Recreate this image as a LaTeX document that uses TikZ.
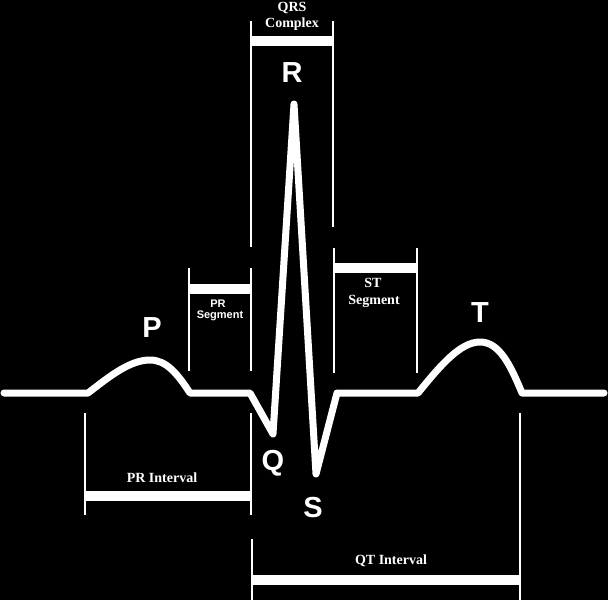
\documentclass[tikz,border=0pt]{standalone}
\usepackage{fontspec}
\setmainfont{Liberation Serif}
\setsansfont{Liberation Sans}
\begin{document}
\begin{tikzpicture}[x=1pt,y=-1pt,
  wave/.style={white,line width=7pt,line join=round,line cap=round},
  tick/.style={white,line width=1.3pt},
  bar/.style={white,line width=10pt},
  wavelabel/.style={white,font=\fontsize{29}{30}\sffamily\bfseries,anchor=base,inner sep=0pt},
  seriflabel/.style={white,font=\fontsize{14}{15}\rmfamily\bfseries,anchor=base,inner sep=0pt},
  sanslabel/.style={white,font=\fontsize{11}{12}\sffamily\bfseries,anchor=base,inner sep=0pt}]
\fill[black] (0,0) rectangle (608,600);
\useasboundingbox (0,0) rectangle (608,600);
% waveform
\draw[wave] (4,393) -- (88,393)
  .. controls (110,376) and (130,360) .. (150,360)
  .. controls (166,360) and (177,373) .. (190,393)
  -- (250,393) -- (273,434) -- (294,104) -- (316,474) -- (337,393) -- (418,393)
  .. controls (440,366) and (460,342) .. (480,342)
  .. controls (499,342) and (510,364) .. (522,393)
  -- (604,393);
% QRS complex
\draw[tick] (251,21) -- (251,247);
\draw[tick] (333,21) -- (333,227);
\draw[bar] (251,41) -- (333,41);
\node[seriflabel] (qrs1) at (292,11.5) {QRS};
\node[seriflabel] (qrs2) at (292,27.5) {Complex};
% PR segment
\draw[tick] (189,268) -- (189,371);
\draw[tick] (251,268) -- (251,371);
\draw[bar] (189,288.5) -- (251,288.5);
\node[sanslabel] (prs1) at (218,307) {PR};
\node[sanslabel] (prs2) at (220,318) {Segment};
% ST segment
\draw[tick] (334,248) -- (334,373);
\draw[tick] (417,248) -- (417,373);
\draw[bar] (334,268) -- (417,268);
\node[seriflabel] (sts1) at (373,287) {ST};
\node[seriflabel] (sts2) at (374,304) {Segment};
% PR interval
\draw[tick] (85,413) -- (85,515);
\draw[tick] (251,413) -- (251,515);
\draw[bar] (85,496) -- (251,496);
\node[seriflabel] (pri) at (162,482) {PR Interval};
% QT interval
\draw[tick] (252,539) -- (252,600);
\draw[tick] (520,413) -- (520,600);
\draw[bar] (252,580) -- (520,580);
\node[seriflabel] (qti) at (391,564) {QT Interval};
% wave letters
\node[wavelabel] (P) at (152,337) {P};
\node[wavelabel] (R) at (292,82) {R};
\node[wavelabel] (Q) at (273,470) {Q};
\node[wavelabel] (S) at (313,517) {S};
\node[wavelabel] (T) at (480,322) {T};
\end{tikzpicture}
\end{document}
